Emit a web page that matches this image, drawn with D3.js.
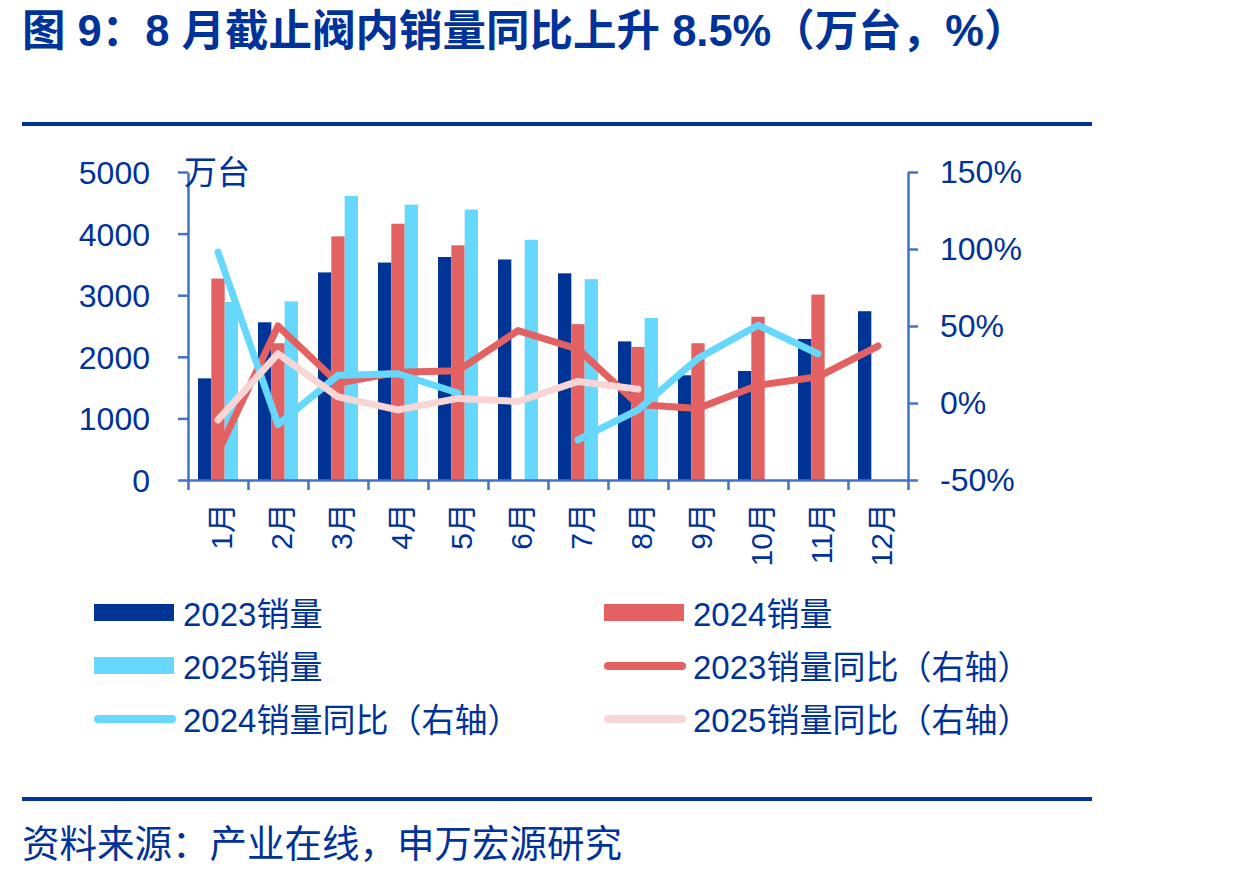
<!DOCTYPE html>
<html>
<head>
<meta charset="utf-8">
<script src="https://cdn.jsdelivr.net/npm/d3@7/dist/d3.min.js"></script>
<style>
body { margin: 0; background: #fff; }
text { font-family: "Liberation Sans", "Noto Sans CJK SC", sans-serif; fill: #003399; }
</style>
</head>
<body>
<script>
// data
const months = ['1月','2月','3月','4月','5月','6月','7月','8月','9月','10月','11月','12月']
const sales2023 = [1650, 2560, 3370, 3530, 3620, 3580, 3355, 2250, 1700, 1770, 2290, 2740]
const sales2024 = [3270, 2220, 3955, 4160, 3810, null, 2530, 2160, 2220, 2650, 3010, null]
const sales2025 = [2890, 2900, 4610, 4470, 4390, 3900, 3260, 2630, null, null, null, null]
const yoy2023 = [-32, 50, 13, 20, 21, 47, 35, -1, -3.5, 11.5, 17, 37]
const yoy2024 = [98, -14, 18, 19, 6.5, null, -24, -4.5, 29, 50.5, 32, null]
const yoy2025 = [-11, 32, 4, -4.5, 3, 1, 14, 9, null, null, null, null]
const leftTicks = [0, 1000, 2000, 3000, 4000, 5000]
const rightTicks = [-50, 0, 50, 100, 150]

const title = '图 9：8 月截止阀内销量同比上升 8.5%（万台，%）'
const source = '资料来源：产业在线，申万宏源研究'

const navy = '#003399', axisColor = '#4472C4'
const barSeries = [
	{ name: '2023销量', values: sales2023, color: '#003595' },
	{ name: '2024销量', values: sales2024, color: '#E46161' },
	{ name: '2025销量', values: sales2025, color: '#66D8FE' }
]
const lineSeries = [
	{ name: '2023销量同比（右轴）', values: yoy2023, color: '#E46161' },
	{ name: '2024销量同比（右轴）', values: yoy2024, color: '#66D8FE' },
	{ name: '2025销量同比（右轴）', values: yoy2025, color: '#F8D6D6' }
]

const plot = { left: 188, right: 908, top: 172, bottom: 480 }

const svg = d3.select('body')
.append('svg')
.attr('width', 1240)
.attr('height', 875)

// title + rules
svg.append('text')
.attr('x', 22).attr('y', 46)
.style('font-size', '43.5px')
.style('font-weight', 'bold')
.text(title)

svg.append('line')
.attr('x1', 22).attr('x2', 1092).attr('y1', 124).attr('y2', 124)
.style('stroke', navy).style('stroke-width', 4)

svg.append('line')
.attr('x1', 22).attr('x2', 1092).attr('y1', 799).attr('y2', 799)
.style('stroke', navy).style('stroke-width', 4)

svg.append('text')
.attr('x', 22).attr('y', 857)
.style('font-size', '37.5px')
.text(source)

// scales
let xScale = d3.scaleBand()
.domain(months)
.range([plot.left, plot.right])
.paddingInner(1/3)
.paddingOuter(1/6)

let xSub = d3.scaleBand()
.domain(d3.range(barSeries.length))
.range([0, xScale.bandwidth()])

let xEdge = d3.scaleLinear()
.domain([0, months.length])
.range([plot.left, plot.right])

let yLeft = d3.scaleLinear()
.domain([0, 5000])
.range([plot.bottom, plot.top])

let yRight = d3.scaleLinear()
.domain([-50, 150])
.range([plot.bottom, plot.top])

// bars
barSeries.forEach((s, k) => {
	svg.append('g')
	.selectAll('rect')
	.data(s.values.map((v, i) => ({ m: months[i], v })).filter(d => d.v != null))
	.join('rect')
	.attr('x', d => xScale(d.m) + xSub(k))
	.attr('width', xSub.bandwidth())
	.attr('y', d => yLeft(d.v))
	.attr('height', d => yLeft(0) - yLeft(d.v))
	.style('fill', s.color)
})

// lines
let lineFunc = d3.line()
.defined(d => d.v != null)
.x(d => xScale(d.m) + xScale.bandwidth() / 2)
.y(d => yRight(d.v))

lineSeries.forEach(s => {
	svg.append('path')
	.datum(s.values.map((v, i) => ({ m: months[i], v })))
	.attr('d', lineFunc)
	.style('fill', 'none')
	.style('stroke', s.color)
	.style('stroke-width', 7)
	.style('stroke-linecap', 'round')
	.style('stroke-linejoin', 'round')
})

// axes
function styleAxis(g) {
	g.select('.domain').style('stroke', axisColor).style('stroke-width', 2.5)
	g.selectAll('.tick line').style('stroke', axisColor).style('stroke-width', 2.5)
	g.selectAll('.tick text').style('font-size', '32px').style('fill', navy)
		.style('font-family', '"Liberation Sans", "Noto Sans CJK SC", sans-serif')
}

svg.append('g')
.attr('transform', `translate(${plot.left},0)`)
.call(d3.axisLeft(yLeft).tickValues(leftTicks).tickSize(10).tickSizeOuter(0).tickPadding(28).tickFormat(d3.format('d')))
.call(styleAxis)
.selectAll('.tick text').attr('dy', '0.36em')

svg.append('g')
.attr('transform', `translate(${plot.right},0)`)
.call(d3.axisRight(yRight).tickValues(rightTicks).tickSize(10).tickSizeOuter(0).tickPadding(22).tickFormat(d => d + '%'))
.call(styleAxis)

svg.append('g')
.attr('transform', `translate(0,${plot.bottom})`)
.call(d3.axisBottom(xEdge).tickValues(d3.range(months.length + 1)).tickSize(10).tickSizeOuter(0).tickFormat(''))
.call(styleAxis)

svg.append('g')
.selectAll('text')
.data(months)
.join('text')
.attr('transform', d => `translate(${xScale(d) + xScale.bandwidth() / 2 + 14},503) rotate(-90)`)
.attr('text-anchor', 'end')
.style('font-size', '30px')
.text(d => d)

svg.append('text')
.attr('x', 184).attr('y', 184)
.style('font-size', '33px')
.text('万台')

// legend
const legendItems = [
	{ s: barSeries[0], type: 'bar' }, { s: barSeries[1], type: 'bar' },
	{ s: barSeries[2], type: 'bar' }, { s: lineSeries[0], type: 'line' },
	{ s: lineSeries[1], type: 'line' }, { s: lineSeries[2], type: 'line' }
]

let legend = svg.append('g')
.selectAll('g')
.data(legendItems)
.join('g')
.attr('transform', (d, i) => `translate(${i % 2 ? 604 : 94},${613 + Math.floor(i / 2) * 53})`)

legend.filter(d => d.type == 'bar')
.append('rect')
.attr('x', 0).attr('y', -9).attr('width', 80).attr('height', 17)
.style('fill', d => d.s.color)

legend.filter(d => d.type == 'line')
.append('line')
.attr('x1', 4).attr('x2', 78).attr('y1', 0).attr('y2', 0)
.style('stroke', d => d.s.color)
.style('stroke-width', 8)
.style('stroke-linecap', 'round')

legend.append('text')
.attr('x', 89).attr('y', 13)
.style('font-size', '33px')
.text(d => d.s.name)
</script>
</body>
</html>
